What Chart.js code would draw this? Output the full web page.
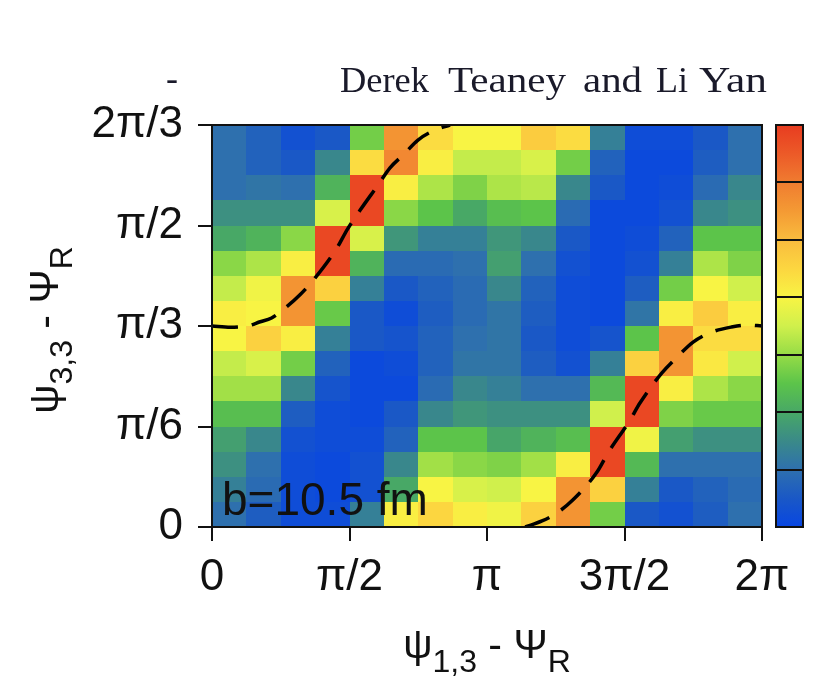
<!DOCTYPE html>
<html>
<head>
<meta charset="utf-8">
<script src="https://cdn.jsdelivr.net/npm/chart.js@4/dist/chart.umd.min.js"></script>
<style>
  html, body { margin: 0; padding: 0; background: #fff; }
  canvas { display: block; }
</style>
</head>
<body>
<canvas id="chart" width="818" height="677"></canvas>
<script>
// angles are kept in degrees, tick labels are written in units of pi
const xTickLabels = ['0', 'π/2', 'π', '3π/2', '2π'];
const yTickLabels = ['0', 'π/6', 'π/3', 'π/2', '2π/3'];

const xBinEdges = [0, 22.5, 45, 67.5, 90, 112.5, 135, 157.5, 180, 202.5, 225, 247.5, 270, 292.5, 315, 337.5, 360];
const yBinEdges = [0, 7.5, 15, 22.5, 30, 37.5, 45, 52.5, 60, 67.5, 75, 82.5, 90, 97.5, 105, 112.5, 120];

// colour level of each cell (0..7 on the colour bar), rows listed from the top (2π/3) down to 0
const density = [
    [1.0, 0.7, 0.3, 0.5, 2.7, 5.6, 4.4, 4.0, 4.0, 4.7, 4.4, 1.3, 0.2, 0.2, 0.5, 1.0],
    [1.0, 0.7, 0.5, 1.45, 4.4, 5.8, 4.1, 3.4, 3.4, 3.6, 2.7, 0.7, 0.1, 0.1, 0.6, 1.0],
    [1.0, 1.1, 1.0, 2.2, 6.8, 4.1, 3.2, 2.8, 3.2, 3.3, 1.45, 0.5, 0.1, 0.2, 0.9, 1.45],
    [1.6, 1.6, 1.6, 3.6, 6.8, 2.9, 2.5, 2.0, 2.4, 2.5, 0.9, 0.1, 0.1, 0.3, 1.45, 1.6],
    [2.0, 2.2, 2.9, 6.8, 3.6, 1.7, 1.3, 1.3, 1.7, 1.45, 0.5, 0.1, 0.2, 0.7, 2.5, 2.5],
    [2.9, 3.2, 4.1, 6.8, 2.2, 0.9, 0.9, 1.0, 1.85, 1.0, 0.3, 0.1, 0.3, 1.3, 3.2, 2.8],
    [3.4, 3.9, 5.6, 4.6, 1.3, 0.5, 0.7, 0.9, 1.45, 0.7, 0.2, 0.1, 0.6, 2.7, 4.0, 3.5],
    [4.1, 4.0, 5.6, 2.6, 0.5, 0.2, 0.6, 0.9, 1.1, 0.6, 0.2, 0.1, 1.1, 4.1, 4.7, 4.1],
    [4.0, 4.6, 4.1, 1.3, 0.5, 0.4, 0.7, 1.0, 1.1, 0.5, 0.2, 0.4, 2.5, 5.6, 4.4, 4.4],
    [3.4, 3.6, 2.7, 0.7, 0.1, 0.2, 0.7, 1.1, 1.1, 0.6, 0.3, 1.3, 4.6, 5.6, 4.2, 3.5],
    [3.1, 3.1, 1.45, 0.4, 0.1, 0.1, 0.9, 1.45, 1.3, 1.0, 1.0, 2.3, 6.8, 4.1, 3.2, 2.9],
    [2.4, 2.4, 0.6, 0.2, 0.1, 0.5, 1.45, 1.7, 1.6, 1.6, 1.6, 3.5, 6.8, 2.8, 2.6, 2.6],
    [1.85, 1.45, 0.3, 0.2, 0.2, 0.7, 2.5, 2.5, 1.95, 2.2, 2.4, 6.8, 3.9, 1.85, 1.6, 1.6],
    [1.6, 1.0, 0.2, 0.1, 0.3, 1.45, 3.1, 2.9, 2.8, 3.1, 4.1, 6.8, 2.3, 1.0, 1.0, 1.0],
    [1.3, 0.9, 0.2, 0.1, 0.3, 2.0, 4.0, 3.6, 3.5, 4.0, 5.6, 4.6, 1.3, 0.5, 0.7, 0.9],
    [1.0, 0.6, 0.2, 0.2, 1.3, 4.1, 4.5, 4.1, 3.9, 4.6, 5.6, 2.7, 0.5, 0.3, 0.6, 1.0]
];

// dashed curve, two branches
const curveLeftX = [0, 12, 25, 31, 39, 48, 57.6, 67.4, 81.8, 88.4, 97, 108.7, 116.5, 125.7, 134.8, 146, 155.8];
const curveLeftY = [60, 59.6, 60.2, 61.2, 62.4, 65.4, 69.3, 74.3, 83.3, 88.7, 94.6, 102.1, 107.2, 111.3, 115.5, 118.5, 120];
const curveRightX = [205, 216, 225.8, 236.3, 252, 259.2, 273.6, 280.1, 294.5, 304.4, 314.9, 327.3, 340, 350.2, 360];
const curveRightY = [0, 1.8, 4.2, 8.1, 16.4, 22.1, 31.9, 37, 46, 50.7, 55.2, 58.2, 59.7, 60.3, 60];

// colour bar: 7 levels, stops every half level
const colorStops = ['#0846e2', '#1a58c6', '#2e70ae', '#3a8a88', '#48a866', '#5cc44a', '#96dc46',
    '#d0f04c', '#f8f444', '#fcd640', '#f9bc3e', '#f49a34', '#f07c30', '#ec5a28', '#e83c20'];
const colorLevels = 7;

const tickFont = { family: '"Liberation Sans", Arial, Helvetica, sans-serif', size: 44 };

function hexToRgb(h) {
    return [parseInt(h.substr(1, 2), 16), parseInt(h.substr(3, 2), 16), parseInt(h.substr(5, 2), 16)];
}

function colorFor(v) {
    const pos = Math.max(0, Math.min(colorStops.length - 1, v * 2));
    const i = Math.min(colorStops.length - 2, Math.floor(pos));
    const t = pos - i;
    const a = hexToRgb(colorStops[i]), b = hexToRgb(colorStops[i + 1]);
    const c = a.map((ch, k) => Math.round(ch + (b[k] - ch) * t));
    return `rgb(${c[0]},${c[1]},${c[2]})`;
}

// text with subscripts, parts = [text, isSub]
function drawSubText(ctx, parts, cx, baseY) {
    const mainFont = '41px "Liberation Sans", Arial, sans-serif';
    const subFont = '32px "Liberation Sans", Arial, sans-serif';
    let total = 0;
    const widths = parts.map(([t, sub]) => {
        ctx.font = sub ? subFont : mainFont;
        const w = ctx.measureText(t).width;
        total += w;
        return w;
    });
    let x = cx - total / 2;
    parts.forEach(([t, sub], i) => {
        ctx.font = sub ? subFont : mainFont;
        ctx.fillText(t, x, baseY + (sub ? 14 : 0));
        x += widths[i];
    });
}

const heatmapPlugin = {
    id: 'heatmap',
    beforeDatasetsDraw(chart) {
        const { ctx, scales: { x, y } } = chart;
        ctx.save();
        density.forEach((row, r) => {
            const yi = density.length - 1 - r;
            const top = Math.round(y.getPixelForValue(yBinEdges[yi + 1]));
            const bottom = Math.round(y.getPixelForValue(yBinEdges[yi]));
            row.forEach((v, c) => {
                const left = Math.round(x.getPixelForValue(xBinEdges[c]));
                const right = Math.round(x.getPixelForValue(xBinEdges[c + 1]));
                ctx.fillStyle = colorFor(v);
                ctx.fillRect(left, top, right - left, bottom - top);
            });
        });
        ctx.restore();
    },
    afterDatasetsDraw(chart) {
        const { ctx, chartArea: ca } = chart;
        ctx.save();
        // label inside the plot
        ctx.fillStyle = '#111';
        ctx.font = '46px "Liberation Sans", Arial, sans-serif';
        ctx.textBaseline = 'alphabetic';
        ctx.fillText('b=10.5 fm', ca.left + 10, ca.bottom - 12);

        // frame
        ctx.strokeStyle = '#111';
        ctx.lineWidth = 2;
        ctx.strokeRect(ca.left, ca.top, ca.right - ca.left, ca.bottom - ca.top);

        // colour bar
        const barL = ca.right + 14, barW = 27;
        const barTop = ca.top, barBottom = ca.bottom;
        const grad = ctx.createLinearGradient(0, barBottom, 0, barTop);
        colorStops.forEach((c, i) => grad.addColorStop(i / (colorStops.length - 1), c));
        ctx.fillStyle = grad;
        ctx.fillRect(barL, barTop, barW, barBottom - barTop);
        ctx.lineWidth = 2;
        for (let i = 1; i < colorLevels; i++) {
            const yy = Math.round(barBottom - i * (barBottom - barTop) / colorLevels);
            ctx.beginPath();
            ctx.moveTo(barL, yy);
            ctx.lineTo(barL + barW, yy);
            ctx.stroke();
        }
        ctx.strokeRect(barL, barTop, barW, barBottom - barTop);
        ctx.restore();
    },
    afterDraw(chart) {
        const { ctx, chartArea: ca } = chart;
        ctx.save();
        ctx.fillStyle = '#111';
        ctx.textBaseline = 'alphabetic';
        ctx.textAlign = 'left';

        // x axis title
        drawSubText(ctx, [['ψ', false], ['1,3', true], [' - Ψ', false], ['R', true]],
            (ca.left + ca.right) / 2, 658);

        // y axis title, rotated
        ctx.save();
        ctx.translate(58, (ca.top + ca.bottom) / 2 + 4);
        ctx.rotate(-Math.PI / 2);
        drawSubText(ctx, [['ψ', false], ['3,3', true], [' - Ψ', false], ['R', true]], 0, 0);
        ctx.restore();

        // header
        ctx.fillStyle = '#1a1a2a';
        ctx.font = '36px "Liberation Serif", "Times New Roman", serif';
        const words = ['Derek', 'Teaney', 'and', 'Li', 'Yan'];
        const wordLeft = [340, 448, 583, 656, 699];
        const wordRight = [429, 566, 642, 688, 767];
        words.forEach((w, i) => {
            const m = ctx.measureText(w).width;
            ctx.save();
            ctx.translate(wordLeft[i], 92);
            ctx.scale((wordRight[i] - wordLeft[i]) / m, 1);
            ctx.fillText(w, 0, 0);
            ctx.restore();
        });
        ctx.textAlign = 'center';
        ctx.fillText('-', 172, 90);
        ctx.restore();
    }
};

const toPoints = (xs, ys) => xs.map((v, i) => ({ x: v, y: ys[i] }));

const curveStyle = {
    showLine: true,
    borderColor: '#000',
    borderWidth: 3.5,
    borderDash: [26, 14],
    pointRadius: 0,
    fill: false,
    cubicInterpolationMode: 'monotone'
};

new Chart(document.getElementById('chart'), {
    type: 'scatter',
    data: {
        datasets: [
            Object.assign({ label: 'left branch', data: toPoints(curveLeftX, curveLeftY) }, curveStyle),
            Object.assign({ label: 'right branch', data: toPoints(curveRightX, curveRightY) }, curveStyle)
        ]
    },
    options: {
        responsive: false,
        animation: false,
        devicePixelRatio: 1,
        layout: { padding: { top: 125, right: 56, left: 0, bottom: 0 } },
        plugins: {
            legend: { display: false },
            tooltip: { enabled: false }
        },
        scales: {
            x: {
                type: 'linear',
                min: 0,
                max: 360,
                afterFit: scale => { scale.height = 150; },
                ticks: {
                    stepSize: 90,
                    autoSkip: false,
                    maxRotation: 0,
                    padding: 10,
                    color: '#111',
                    font: tickFont,
                    callback: (v, i) => xTickLabels[i]
                },
                grid: { drawOnChartArea: false, drawTicks: true, tickLength: 14, color: '#111', lineWidth: 2 },
                border: { display: false }
            },
            y: {
                type: 'linear',
                min: 0,
                max: 120,
                afterFit: scale => { scale.width = 212; },
                ticks: {
                    stepSize: 30,
                    autoSkip: false,
                    padding: 15,
                    color: '#111',
                    font: tickFont,
                    callback: (v, i) => yTickLabels[i]
                },
                grid: { drawOnChartArea: false, drawTicks: true, tickLength: 14, color: '#111', lineWidth: 2 },
                border: { display: false }
            }
        }
    },
    plugins: [heatmapPlugin]
});
</script>
</body>
</html>
